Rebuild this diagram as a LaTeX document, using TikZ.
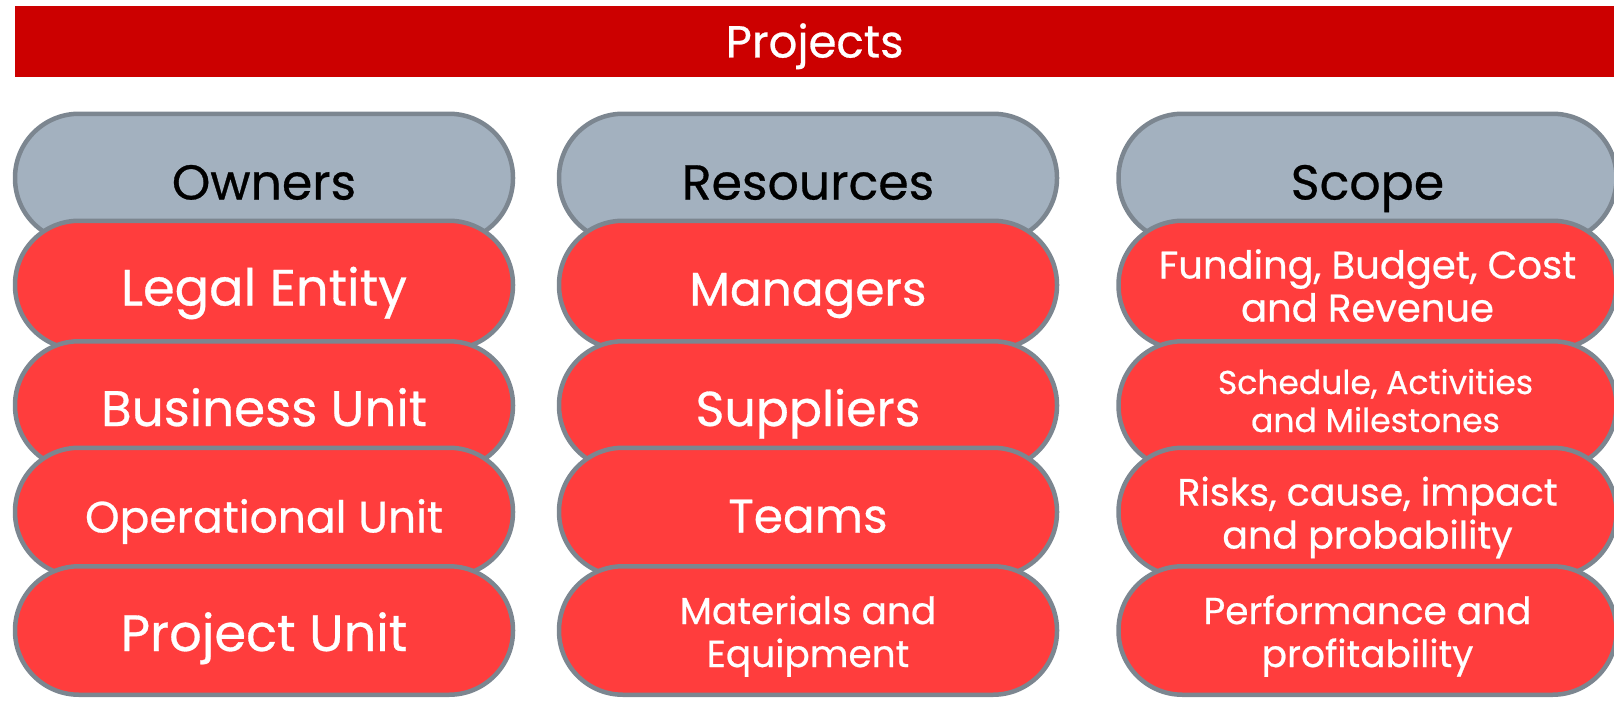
\documentclass[tikz,border=0pt]{standalone}
\usepackage{fontspec}
\setmainfont{Poppins}[FakeBold=0.6]
\usepackage{tikz}
\definecolor{bannerred}{HTML}{CC0000}
\definecolor{headgray}{HTML}{A3B1BF}
\definecolor{pillred}{HTML}{FF3D3D}
\definecolor{pillline}{HTML}{7C8690}
\newcommand{\tstrut}[1]{\rule{0pt}{#1}}
\newcommand{\bstrut}[1]{\rule[-#1]{0pt}{#1}}
\tikzset{
    every node/.style={rectangle, rounded corners=64pt, inner sep=0pt, align=center,
        minimum width=498pt, minimum height=128.5pt, line width=4.5pt, draw=pillline}
}
\tikzset{head/.style={fill=headgray, text=black, font=\fontsize{49}{52}\selectfont,
        text height=43pt, text depth=0pt}}
\tikzset{item/.style={fill=pillred, text=white, font=\fontsize{#1}{43}\selectfont}, item/.default=50}
\tikzset{oneline/.style={text height=41pt, text depth=0pt}}
\tikzset{banner/.style={fill=bannerred, draw=none, rounded corners=0pt, text=white,
        minimum width=1599pt, minimum height=71pt, font=\fontsize{45}{48}\selectfont,
        text height=32pt, text depth=0pt}}

\begin{document}
\begin{tikzpicture}[x=1pt, y=-1pt]
        \useasboundingbox (0,0) rectangle (1614,701);
        \node (projects) [banner] at (814.7, 41.5) {Projects};
        % owners
        \node (owners) [head] at (264, 178) {Owners};
        \node (legal) [item=51, oneline] at (264, 285) {Legal Entity};
        \node (business) [item=50, oneline] at (264, 405.5) {Business Unit};
        \node (operational) [item=44, oneline] at (264, 512) {Operational Unit};
        \node (projunit) [item=51, oneline] at (264, 630.5) {Project Unit};
        % resources
        \node (resources) [head] at (808, 178) {Resources};
        \node (managers) [item=47, oneline] at (808, 285) {Managers};
        \node (suppliers) [item=49, oneline] at (808, 405.5) {Suppliers};
        \node (teams) [item=47, oneline] at (808, 512) {Teams};
        \node (materials) [item=37.5] at (808, 630.5) {\tstrut{41pt}Materials and\\Equipment\bstrut{11pt}};
        % scope
        \node (scope) [head] at (1367.5, 178) {Scope};
        \node (funding) [item=38.5] at (1367.5, 285) {\tstrut{41pt}Funding, Budget, Cost\\and Revenue\bstrut{11pt}};
        \node (schedule) [item=33, font=\fontsize{33}{38}\selectfont] at (1367.5, 405.5)
                {\tstrut{26pt}\hspace*{16pt}Schedule, Activities\\\hspace*{16pt}and Milestones\bstrut{11pt}};
        \node (risks) [item=38] at (1367.5, 512) {\tstrut{41pt}Risks, cause, impact\\and probability\bstrut{11pt}};
        \node (performance) [item=37.5] at (1367.5, 630.5) {\tstrut{41pt}Performance and\\profitability\bstrut{11pt}};
\end{tikzpicture}
\end{document}
